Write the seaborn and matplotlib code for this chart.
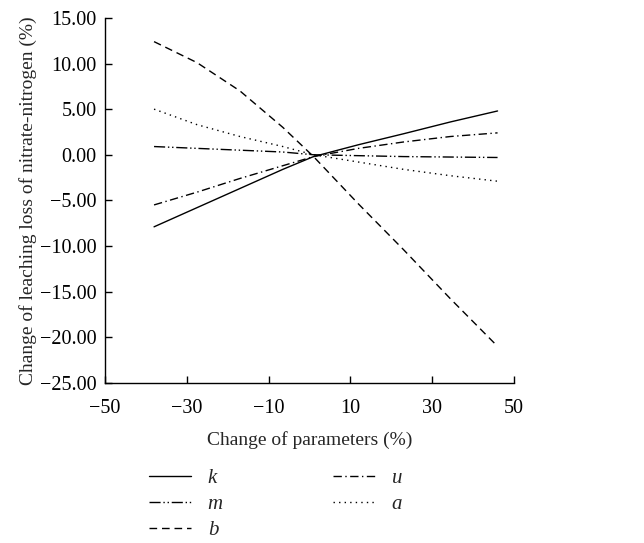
import matplotlib
matplotlib.use("Agg")
import matplotlib.pyplot as plt
from matplotlib.ticker import FuncFormatter
import pandas as pd
import seaborn as sns

# change of parameters (%), positions as they sit on the reference axis
param_change = [-38, -27.5, -17, -6.5, 1, 12, 23, 34.5, 46]

# change of leaching loss of nitrate-nitrogen (%)
k_vals = [-7.9, -5.8, -3.7, -1.6, -0.2, 1.1, 2.3, 3.6, 4.8]
m_vals = [0.9, 0.7, 0.5, 0.3, 0.0, -0.1, -0.2, -0.25, -0.3]
b_vals = [12.4, 10.1, 7.0, 3.0, -0.2, -5.4, -10.4, -15.8, -21.0]
u_vals = [-5.5, -4.1, -2.6, -1.2, -0.2, 0.7, 1.4, 2.0, 2.4]
a_vals = [5.0, 3.3, 2.0, 0.9, 0.0, -0.8, -1.6, -2.3, -2.9]

series_names = ["k", "m", "b", "u", "a"]
series_vals = [k_vals, m_vals, b_vals, u_vals, a_vals]
dash_styles = {
    "k": "-",
    "m": (0, (8, 2, 1, 2, 1, 2)),
    "b": (0, (5.5, 3.5)),
    "u": (0, (6, 2.5, 1, 2.5)),
    "a": (0, (1, 3)),
}

df = pd.DataFrame({
    "x": param_change * len(series_names),
    "y": sum(series_vals, []),
    "param": [n for n in series_names for _ in param_change],
})

sns.set_style("ticks")
plt.rcParams["font.family"] = ["Liberation Serif", "DejaVu Serif"]

fig = plt.figure(figsize=(6.44, 5.43), dpi=100)
ax = fig.add_axes([0.163, 0.295, 0.635, 0.672])

handles = []
for name in series_names:
    sub = df[df["param"] == name]
    sns.lineplot(data=sub, x="x", y="y", ax=ax, color="black",
                 linewidth=1.0, linestyle=dash_styles[name], legend=False)
    handles.append(ax.lines[-1])

ax.set_xlim(-50, 50)
ax.set_ylim(-25, 15)
ax.set_xticks([-50, -30, -10, 10, 30, 50])
ax.set_yticks(range(-25, 16, 5))
ax.yaxis.set_major_formatter(FuncFormatter(
    lambda v, p: f"{v:.2f}".replace("-", "\u2212")))
ax.xaxis.set_major_formatter(FuncFormatter(
    lambda v, p: f"{v:.0f}".replace("-", "\u2212")))
ax.tick_params(direction="in", length=5, width=1, labelsize=14.5,
               colors="black")
ax.tick_params(axis="x", pad=12)
ax.tick_params(axis="y", pad=6)
for side in ["top", "right"]:
    ax.spines[side].set_visible(False)
for side in ["left", "bottom"]:
    ax.spines[side].set_linewidth(1.0)
    ax.spines[side].set_color("black")

ax.set_xlabel("Change of parameters (%)", fontsize=14, labelpad=9)
ax.set_ylabel("Change of leaching loss of nitrate-nitrogen (%)", fontsize=14,
              labelpad=2)

fig.legend(handles, series_names, ncol=2, loc="upper left",
           bbox_to_anchor=(0.232, 0.137), frameon=False,
           prop={"family": "Liberation Serif", "style": "italic", "size": 15},
           handlelength=2.0, handletextpad=0.8, columnspacing=5.3,
           labelspacing=0.3, borderpad=0, borderaxespad=0)

fig.savefig("out.png", dpi=100)
